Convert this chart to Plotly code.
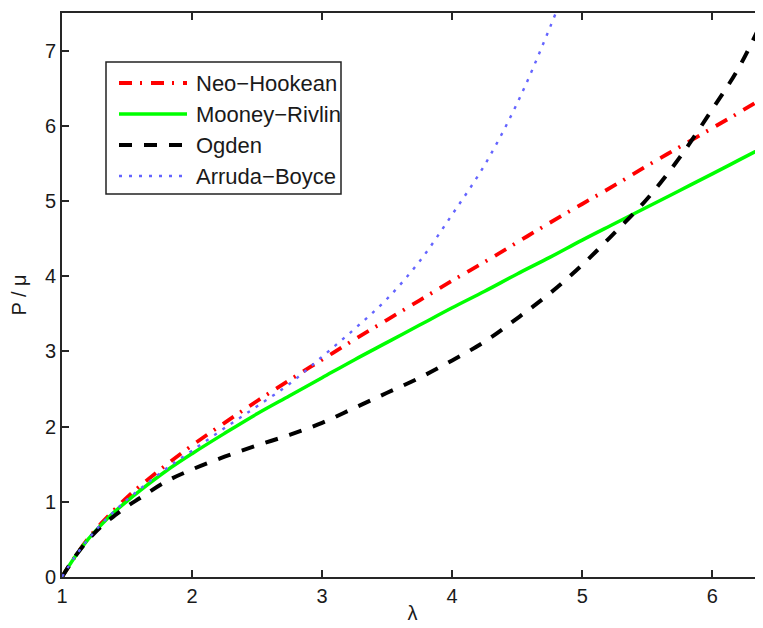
import plotly.graph_objects as go

# ---- data ----
stretch = [1.0, 1.1, 1.2, 1.3, 1.4, 1.5, 1.6, 1.8, 2.0, 2.25, 2.5, 2.75, 3.0,
           3.25, 3.5, 3.75, 4.0, 4.25, 4.5, 4.75, 5.0, 5.25, 5.5, 5.75, 6.0, 6.2, 6.4]

neo_hookean = [0.00, 0.27, 0.51, 0.71, 0.89, 1.06, 1.21, 1.49, 1.75, 2.05, 2.34, 2.62, 2.89,
               3.16, 3.42, 3.68, 3.94, 4.19, 4.45, 4.71, 4.96, 5.21, 5.47, 5.72, 5.97, 6.17, 6.38]

mooney_rivlin = [0.00, 0.27, 0.50, 0.69, 0.86, 1.01, 1.15, 1.41, 1.64, 1.91, 2.17, 2.41, 2.65,
                 2.89, 3.12, 3.35, 3.58, 3.80, 4.03, 4.25, 4.48, 4.70, 4.92, 5.14, 5.36, 5.54, 5.72]

ogden = [0.00, 0.27, 0.49, 0.67, 0.81, 0.94, 1.05, 1.27, 1.43, 1.60, 1.75, 1.89, 2.05,
         2.25, 2.45, 2.65, 2.88, 3.13, 3.44, 3.77, 4.15, 4.58, 5.03, 5.58, 6.22, 6.76, 7.45]

ab_stretch = [1.0, 1.1, 1.2, 1.3, 1.4, 1.5, 1.6, 1.8, 2.0, 2.25, 2.5, 2.75, 3.0,
              3.25, 3.5, 3.75, 4.0, 4.25, 4.5, 4.75, 5.0]
arruda_boyce = [0.00, 0.27, 0.50, 0.70, 0.87, 1.03, 1.17, 1.44, 1.68, 1.98, 2.27, 2.57, 2.93,
                3.30, 3.70, 4.20, 4.82, 5.48, 6.30, 7.30, 8.40]

series_names = ["Neo\u2212Hookean", "Mooney\u2212Rivlin", "Ogden", "Arruda\u2212Boyce"]
x_ticks = [1, 2, 3, 4, 5, 6]
y_ticks = [0, 1, 2, 3, 4, 5, 6, 7]

# ---- styles ----
styles = [
    dict(color="#ff0000", width=3.8, dash="13px,8px,2px,9px"),
    dict(color="#00ff00", width=3.5, dash="solid"),
    dict(color="#000000", width=4, dash="13px,12px"),
    dict(color="#6464ff", width=2.4, dash="3px,7px"),
]

FONT = "Liberation Sans, Arial, sans-serif"

fig = go.Figure()
data_sets = [(stretch, neo_hookean), (stretch, mooney_rivlin), (stretch, ogden), (ab_stretch, arruda_boyce)]
for (xs, ys), name, st in zip(data_sets, series_names, styles):
    fig.add_trace(go.Scatter(x=xs, y=ys, mode="lines", name=name, line=st,
                             line_shape="spline", showlegend=False))

# ---- geometry (page has an 8px body margin) ----
OFF = 8
W, H = 763 - OFF, 628 - OFF
L, R, T, B = 62 - OFF, 0, 13 - OFF, 51
pw, ph = W - L - R, H - T - B

def px(xp):
    return (xp - OFF - L) / pw

def py(yp):
    return (H - B - (yp - OFF)) / ph

# ---- custom legend box (MATLAB-like) ----
fig.add_shape(type="rect", xref="paper", yref="paper",
              x0=px(106), x1=px(341), y0=py(194), y1=py(62),
              line=dict(color="#222222", width=1.5), fillcolor="white", layer="above")
rows = [83, 114, 145, 176]
for yrow, name, st in zip(rows, series_names, styles):
    fig.add_shape(type="line", xref="paper", yref="paper",
                  x0=px(119), x1=px(187), y0=py(yrow), y1=py(yrow),
                  line=st, layer="above")
    fig.add_annotation(xref="paper", yref="paper", x=px(194), y=py(yrow),
                       text=name, showarrow=False, xanchor="left", yanchor="middle",
                       font=dict(size=22, color="#1a1a1a", family=FONT))

axis_common = dict(
    showgrid=False, zeroline=False, showline=True, linecolor="#262626", linewidth=2,
    ticks="inside", ticklen=7, tickwidth=1.5, tickcolor="#262626",
    tickfont=dict(size=20, color="#1a1a1a", family=FONT),
)

fig.update_layout(
    width=W, height=H,
    margin=dict(l=L, r=R, t=T, b=B, autoexpand=False),
    paper_bgcolor="white", plot_bgcolor="white",
    font=dict(family=FONT, color="#1a1a1a"),
    xaxis=dict(range=[1, 6.39], tickvals=x_ticks, mirror="ticks",
               title=dict(text="\u03bb", font=dict(size=20), standoff=0), **axis_common),
    yaxis=dict(range=[0, 7.5], tickvals=y_ticks, mirror=False,
               title=dict(text="P / \u03bc", font=dict(size=20), standoff=13), **axis_common),
)

fig.write_html("out.html")
